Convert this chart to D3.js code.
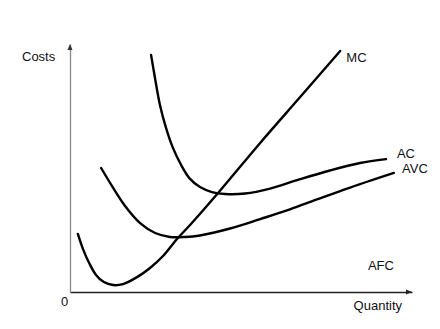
<!DOCTYPE html>
<html>
<head>
<meta charset="utf-8">
<script src="https://cdn.jsdelivr.net/npm/d3@7"></script>
<style>
  html, body { margin: 0; padding: 0; background: #fff; }
  svg { display: block; }
  text { font-family: "Liberation Sans", Arial, Helvetica, sans-serif; font-size: 13px; fill: #111; }
</style>
</head>
<body>
<svg id="chart" width="440" height="329"></svg>
<script>
// Quantity / cost values (arbitrary units)
const mcQ  = [0.23, 0.38, 0.56, 0.76, 0.99, 1.26, 1.55, 1.96, 2.34, 2.72, 3.13, 3.51, 4.33, 5.56, 6.73, 7.90];
const mcC  = [2.34, 1.73, 1.17, 0.69, 0.40, 0.28, 0.32, 0.60, 0.97, 1.45, 2.14, 2.70, 3.99, 6.01, 7.86, 9.72];

const avcQ = [0.91, 1.23, 1.61, 2.05, 2.49, 2.92, 3.36, 3.80, 4.68, 5.56, 6.43, 7.22, 8.19, 9.47];
const avcC = [5.00, 4.27, 3.47, 2.78, 2.38, 2.22, 2.22, 2.28, 2.56, 2.94, 3.33, 3.73, 4.21, 4.80];

const acQ  = [2.37, 2.49, 2.63, 2.81, 3.01, 3.25, 3.51, 3.80, 4.15, 4.53, 5.12, 5.85, 6.73, 7.60, 8.48, 9.24];
const acC  = [9.56, 8.59, 7.54, 6.61, 5.81, 5.12, 4.56, 4.23, 4.03, 3.95, 3.97, 4.17, 4.55, 4.90, 5.20, 5.36];

const curveNames = ["MC", "AC", "AVC"];
const labelNames = ["MC", "AC", "AVC", "AFC"];
const labelQ     = [8.08, 9.56, 9.71, 8.71];
const labelC     = [9.27, 5.40, 4.80, 0.89];
const axisTitles = ["Quantity", "Costs"];
const originLabel = "0";

const W = 440, H = 329;
const margin = { left: 70, right: 28, top: 44, bottom: 37 };

const x = d3.scaleLinear().domain([0, 10]).range([margin.left, W - margin.right]);
const y = d3.scaleLinear().domain([0, 10]).range([H - margin.bottom, margin.top]);

const svg = d3.select("#chart");

// Axes (no ticks)
svg.append("g")
  .attr("transform", `translate(0,${y(0)})`)
  .call(d3.axisBottom(x).tickValues([]).tickSizeOuter(0))
  .call(g => g.select(".domain").attr("stroke", "#222").attr("stroke-width", 1.3));
svg.append("g")
  .attr("transform", `translate(${x(0)},0)`)
  .call(d3.axisLeft(y).tickValues([]).tickSizeOuter(0))
  .call(g => g.select(".domain").attr("stroke", "#888").attr("stroke-width", 1.3));

// arrowheads
svg.append("path")
  .attr("d", `M${x(10)},${y(0)} l-6,-2.5 l0,5 Z`)
  .attr("fill", "#222");
svg.append("path")
  .attr("d", `M${x(0)},${y(10)} l-2.5,6 l5,0 Z`)
  .attr("fill", "#333");

// Curves
const series = [
  { name: curveNames[0], q: mcQ,  c: mcC },
  { name: curveNames[1], q: acQ,  c: acC },
  { name: curveNames[2], q: avcQ, c: avcC }
];
const line = d3.line()
  .x(d => x(d[0]))
  .y(d => y(d[1]))
  .curve(d3.curveCatmullRom.alpha(0.5));

svg.append("g").selectAll("path")
  .data(series)
  .join("path")
  .attr("d", s => line(s.q.map((v, i) => [v, s.c[i]])))
  .attr("fill", "none")
  .attr("stroke", "#000")
  .attr("stroke-width", 2.4)
  .attr("stroke-linecap", "round")
  .attr("stroke-linejoin", "round");

// Curve labels
svg.append("g").selectAll("text")
  .data(labelNames)
  .join("text")
  .attr("x", (d, i) => x(labelQ[i]))
  .attr("y", (d, i) => y(labelC[i]))
  .text(d => d);

// Axis titles
svg.append("text")
  .attr("x", 402).attr("y", 310)
  .attr("text-anchor", "end")
  .text(axisTitles[0]);
svg.append("text")
  .attr("x", 22).attr("y", 61)
  .text(axisTitles[1]);
svg.append("text")
  .attr("x", 61).attr("y", 306)
  .text(originLabel);
</script>
</body>
</html>
